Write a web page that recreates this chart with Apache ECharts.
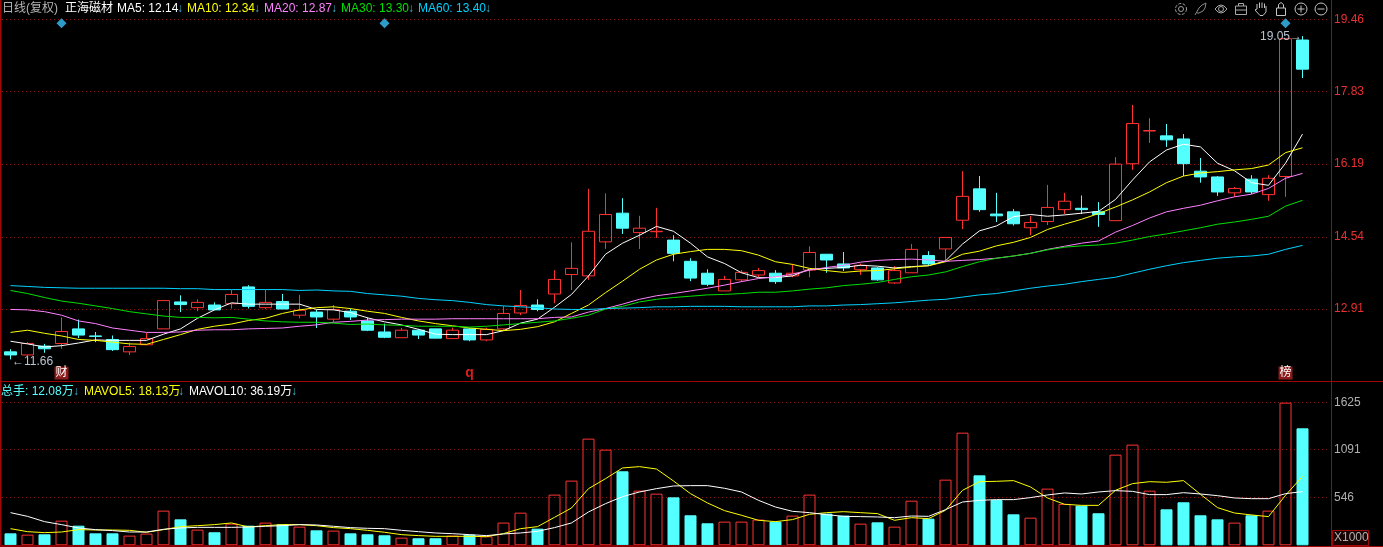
<!DOCTYPE html>
<html><head><meta charset="utf-8">
<style>html,body{margin:0;padding:0;background:#000}#c{width:1383px;height:547px}</style>
<script src="https://cdn.jsdelivr.net/npm/echarts@6/dist/echarts.min.js"></script>
</head><body><div id="c"></div>
<script>
// [open, close, low, high]
const kline = [
[11.94,11.87,11.77,12.00],[11.87,12.13,11.83,12.16],[12.07,12.01,11.92,12.12],[12.13,12.40,12.01,12.72],[12.46,12.32,12.25,12.67],
[12.30,12.29,12.16,12.39],[12.22,11.99,11.96,12.31],[11.94,12.06,11.87,12.15],[12.10,12.24,12.09,12.37],[12.46,13.10,12.46,13.10],
[13.07,13.01,12.84,13.22],[12.94,13.06,12.86,13.13],[13.00,12.89,12.89,13.06],[13.03,13.24,12.92,13.34],[13.41,12.97,12.92,13.45],
[12.94,13.06,12.91,13.34],[13.08,12.91,12.91,13.25],[12.77,12.88,12.70,13.23],[12.84,12.73,12.48,12.90],[12.68,12.90,12.61,13.00],
[12.86,12.73,12.66,12.92],[12.64,12.43,12.41,12.72],[12.39,12.27,12.25,12.58],[12.26,12.43,12.26,12.48],[12.43,12.32,12.23,12.46],
[12.46,12.25,12.25,12.46],[12.24,12.43,12.24,12.49],[12.46,12.21,12.18,12.48],[12.21,12.45,12.18,12.49],[12.46,12.81,12.43,12.98],
[12.82,12.99,12.77,13.34],[13.00,12.90,12.86,13.13],[13.25,13.58,13.04,13.79],[13.69,13.83,13.34,14.42],[13.66,14.67,13.57,15.63],
[14.43,15.05,14.27,15.53],[15.08,14.74,14.61,15.42],[14.64,14.74,14.27,15.02],[14.66,14.67,14.52,15.20],[14.47,14.17,13.99,14.58],
[13.99,13.61,13.54,14.06],[13.72,13.47,13.43,13.81],[13.32,13.58,13.32,13.66],[13.57,13.74,13.52,13.79],[13.68,13.78,13.63,13.84],
[13.72,13.53,13.48,13.79],[13.66,13.72,13.63,13.93],[13.79,14.19,13.63,14.33],[14.15,14.02,13.73,14.15],[13.93,13.84,13.77,14.20],
[13.80,13.90,13.68,13.94],[13.84,13.57,13.55,13.86],[13.50,13.78,13.48,13.88],[13.73,14.26,13.73,14.38],[14.12,13.93,13.89,14.22],
[14.27,14.53,14.00,14.53],[14.92,15.46,14.72,16.03],[15.63,15.16,15.11,15.92],[15.06,15.02,14.88,15.54],[15.11,14.84,14.80,15.17],
[14.75,14.87,14.58,15.02],[14.89,15.21,14.81,15.72],[15.16,15.35,15.06,15.54],[15.19,15.16,15.06,15.48],[15.11,15.05,14.77,15.33],
[14.91,16.19,14.91,16.35],[16.20,17.11,16.06,17.53],[16.94,16.95,16.67,17.23],[16.83,16.74,16.58,17.10],[16.76,16.20,15.92,16.87],
[16.03,15.90,15.77,16.33],[15.90,15.56,15.47,15.92],[15.54,15.64,15.45,15.67],[15.85,15.56,15.51,15.94],[15.50,15.87,15.36,15.94],
[15.91,19.03,15.45,19.03],[19.00,18.34,18.14,19.09]];
const ma5 = [12.18,12.12,12.05,12.08,12.14,12.21,12.20,12.20,12.20,12.34,12.46,12.70,12.89,13.05,13.02,13.02,13.02,13.02,12.90,12.89,12.83,12.71,12.62,12.55,12.45,12.34,12.33,12.33,12.33,12.42,12.59,12.68,12.95,13.24,13.66,14.15,14.40,14.58,14.78,14.67,14.40,14.09,13.94,13.73,13.62,13.62,13.66,13.81,13.83,13.85,13.90,13.88,13.84,13.87,13.89,14.00,14.38,14.68,14.79,15.00,15.05,15.01,15.04,15.08,15.12,15.39,15.83,16.24,16.51,16.64,16.58,16.21,16.04,15.77,15.71,16.21,16.87];
const ma10 = [12.38,12.43,12.36,12.30,12.22,12.20,12.16,12.12,12.11,12.22,12.33,12.45,12.52,12.57,12.65,12.70,12.81,12.89,12.94,12.96,12.92,12.86,12.81,12.72,12.64,12.58,12.53,12.48,12.45,12.42,12.45,12.51,12.62,12.81,13.00,13.28,13.54,13.81,14.02,14.15,14.21,14.26,14.26,14.23,14.13,13.98,13.92,13.83,13.78,13.74,13.77,13.78,13.82,13.86,13.89,13.98,14.15,14.22,14.34,14.42,14.53,14.71,14.83,14.94,15.07,15.22,15.38,15.56,15.77,15.92,15.99,16.02,16.06,16.09,16.17,16.45,16.56];
const ma20 = [12.90,12.89,12.85,12.77,12.64,12.58,12.48,12.43,12.38,12.38,12.39,12.43,12.44,12.44,12.46,12.47,12.48,12.52,12.55,12.61,12.63,12.66,12.67,12.68,12.68,12.68,12.69,12.69,12.69,12.69,12.69,12.69,12.72,12.73,12.84,12.92,13.02,13.13,13.21,13.26,13.32,13.38,13.45,13.53,13.60,13.64,13.70,13.79,13.85,13.90,13.97,14.01,14.03,14.04,14.02,13.99,14.01,14.03,14.06,14.11,14.17,14.26,14.33,14.40,14.45,14.65,14.80,14.97,15.11,15.19,15.26,15.36,15.45,15.51,15.64,15.87,15.98];
const ma30 = [13.33,13.26,13.17,13.09,13.04,12.98,12.92,12.85,12.80,12.75,12.72,12.72,12.71,12.72,12.68,12.64,12.62,12.61,12.61,12.59,12.56,12.57,12.55,12.54,12.52,12.52,12.52,12.50,12.52,12.55,12.58,12.61,12.64,12.70,12.77,12.91,12.97,13.07,13.13,13.17,13.20,13.23,13.24,13.26,13.29,13.29,13.32,13.36,13.39,13.44,13.47,13.51,13.58,13.64,13.68,13.75,13.87,13.98,14.06,14.11,14.17,14.25,14.31,14.34,14.36,14.40,14.47,14.55,14.61,14.68,14.75,14.83,14.88,14.94,15.01,15.24,15.37];
const ma60 = [13.44,13.42,13.40,13.39,13.38,13.38,13.38,13.38,13.38,13.38,13.37,13.37,13.35,13.35,13.35,13.35,13.35,13.33,13.34,13.32,13.31,13.26,13.23,13.20,13.15,13.12,13.10,13.06,13.01,12.98,12.96,12.94,12.91,12.90,12.90,12.92,12.93,12.94,12.96,12.96,12.97,12.97,12.97,12.96,12.96,12.96,12.96,12.98,12.98,13.00,13.01,13.03,13.05,13.08,13.11,13.13,13.18,13.23,13.26,13.32,13.38,13.43,13.47,13.53,13.58,13.63,13.72,13.81,13.89,13.96,14.01,14.06,14.09,14.11,14.15,14.26,14.35];
const vol = [136,121,125,280,223,136,136,110,133,394,295,178,148,246,223,258,239,212,170,167,136,125,114,87,80,80,110,121,102,258,371,189,576,735,1212,1087,841,621,587,545,341,250,269,269,292,269,337,576,360,337,246,261,212,507,303,746,1280,795,515,352,314,644,470,451,364,1030,1144,621,409,489,341,295,258,341,394,1621,1329];
const mavol5 = [189,155,144,151,178,174,174,170,148,178,212,223,235,254,208,223,235,235,223,201,189,170,148,121,110,102,102,102,98,133,189,212,318,424,644,757,879,894,867,731,587,481,394,341,284,269,292,352,371,382,371,360,284,314,303,398,625,723,727,735,663,538,466,454,454,625,701,723,716,735,579,428,367,345,326,568,784];
const mavol10 = [371,329,269,235,197,178,167,151,151,182,197,204,204,204,208,216,223,235,231,216,201,193,189,170,155,140,132,121,110,129,140,159,201,254,379,473,553,606,644,674,678,678,648,606,511,435,386,371,348,329,326,322,314,333,329,405,492,511,519,519,542,572,595,583,606,621,613,576,576,598,583,564,538,530,530,587,610];
const priceTicks = [19.46,17.83,16.19,14.54,12.91];
const volTicks = [1625,1091,546];
const diamonds = [3,22,75];
const categories = kline.map((_,i)=>String(i)).concat(['']);

const UP='#ff3232', DOWN='#54ffff', GRID='#8c1010', FRAME='#a00808', FONT='"Liberation Sans","Noto Sans CJK SC",sans-serif';
const isUp = i => kline[i][1] >= kline[i][0];
const line = (name,data,color,xi,yi)=>({name,type:'line',data,xAxisIndex:xi,yAxisIndex:yi,symbol:'none',silent:true,
  lineStyle:{color,width:1},itemStyle:{color},z:5});
const txt = (x,y,text,fill,size)=>({type:'text',x,y,z:50,silent:true,style:{text,fill,font:(size||12)+'px '+FONT,textVerticalAlign:'top'}});
const poly = (pts,stroke)=>({type:'polyline',z:50,silent:true,shape:{points:pts},style:{stroke:stroke||'#a8a8a8',fill:null,lineWidth:1}});
const ring = (cx,cy,r,stroke,dash)=>({type:'circle',z:50,silent:true,shape:{cx,cy,r},style:{stroke:stroke,fill:null,lineWidth:1,lineDash:dash||null}});
const seg = (x1,y1,x2,y2,color,w)=>({type:'line',z:40,silent:true,shape:{x1,y1,x2,y2},style:{stroke:color,lineWidth:w||1}});

const graphic = [
 seg(0.5,0,0.5,547,FRAME,2), seg(0,381.5,1383,381.5,FRAME),
 seg(1331.5,0,1331.5,547,FRAME), seg(0,546,1120,546,'#8b0000',2), seg(1120,546.5,1383,546.5,FRAME),
 {type:'rect',z:41,silent:true,shape:{x:1332.5,y:530.5,width:36,height:15},style:{fill:'#1a0505',stroke:FRAME,lineWidth:1}},
 txt(1334,532,'X1000','#b0b0b0',12),
 txt(2,3,'日线(复权)','#b4b4b4'), txt(65,3,'正海磁材','#ffffff'),
 txt(117,3,'MA5: 12.14','#ffffff'), txt(177,3,'↓','#3fb6d0'),
 txt(187,3,'MA10: 12.34','#ffff00'), txt(254,3,'↓','#3fb6d0'),
 txt(264,3,'MA20: 12.87','#ff80ff'), txt(331,3,'↓','#3fb6d0'),
 txt(341,3,'MA30: 13.30','#00e000'), txt(408,3,'↓','#3fb6d0'),
 txt(418,3,'MA60: 13.40','#00d2ff'), txt(485,3,'↓','#3fb6d0'),
 txt(1,386,'总手: 12.08万','#54ffff'), txt(73,386,'↓','#3fb6d0'),
 txt(84,386,'MAVOL5: 18.13万','#ffff00'), txt(178,386,'↓','#3fb6d0'),
 txt(189,386,'MAVOL10: 36.19万','#ffffff'), txt(291,386,'↓','#3fb6d0'),
 // toolbar
 ring(1181,9,2.5,'#a0a0a0'), ring(1181,9,5.5,'#a0a0a0',[3,1.5]),
 poly([[1195,15],[1199,8],[1202,5],[1206,3],[1205,8],[1203,11],[1199,13],[1197,13]],'#8a8a8a'),
 poly([[1215,9],[1218,6],[1221,5],[1224,6],[1227,9],[1224,12],[1221,13],[1218,12],[1215,9]]), ring(1221,9,2.5,'#a8a8a8'),
 poly([[1235.5,6],[1246.5,6],[1246.5,14.5],[1235.5,14.5],[1235.5,6]]), poly([[1238.5,6],[1238.5,3.5],[1243.5,3.5],[1243.5,6]]), poly([[1235.5,10],[1246.5,10]]),
 poly([[1257,9],[1257,4]],'#c4c4c4'), poly([[1259.5,8],[1259.5,2.5]],'#c4c4c4'), poly([[1262,8],[1262,2.5]],'#c4c4c4'), poly([[1264.5,8],[1264.5,3.5]],'#c4c4c4'),
 poly([[1266,9],[1266,6]],'#c4c4c4'), poly([[1266,9],[1266,12],[1263,15.5],[1260,15.5],[1255,10],[1257,9]],'#c4c4c4'),
 poly([[1276.5,8],[1285.5,8],[1285.5,15.5],[1276.5,15.5],[1276.5,8]],'#c4c4c4'), poly([[1278.5,8],[1278.5,4.5],[1281,2.5],[1283.5,4.5],[1283.5,8]],'#c4c4c4'),
 ring(1301,9,6,'#c4c4c4'), poly([[1297.5,9],[1304.5,9]],'#c4c4c4'), poly([[1301,5.5],[1301,12.5]],'#c4c4c4'),
 ring(1321,9,6,'#c4c4c4'), poly([[1317.5,9],[1324.5,9]],'#c4c4c4')
];

const diamondValue = 19.38, badgeValue = 11.46;
const point = (i,value,extra)=>Object.assign({coord:[i,value]},extra);
const badge = (i,text,bg,color,weight,size)=>point(i,badgeValue,{symbol:'rect',symbolSize:1,itemStyle:{color:'transparent'},
  label:{show:true,position:'inside',formatter:text,color,fontSize:size||12,fontWeight:weight||'normal',fontFamily:FONT,backgroundColor:bg,padding:[1,1,0,1]}});
const note = (i,value,text,pos)=>point(i,value,{symbol:'rect',symbolSize:1,itemStyle:{color:'transparent'},
  label:{show:true,position:pos,distance:pos==='left'?0:1,formatter:text,color:'#b8c4d0',fontSize:12,fontFamily:FONT}});

const option = {
 backgroundColor:'#000', animation:false,
 graphic,
 grid:[{left:2,width:1326,top:19.7,height:361.3},{left:2,width:1326,top:402.3,height:143}],
 xAxis:[0,1].map(g=>({type:'category',gridIndex:g,data:categories,boundaryGap:true,show:false})),
 yAxis:[
  {type:'value',gridIndex:0,position:'right',offset:3,min:11.28,max:19.46,scale:true,
   axisLine:{show:false},axisTick:{show:false,customValues:priceTicks},
   axisLabel:{customValues:priceTicks,color:'#e83030',fontSize:12,fontFamily:FONT,margin:3,formatter:v=>v.toFixed(2),showMinLabel:true,showMaxLabel:true},
   splitLine:{show:true,lineStyle:{color:GRID,type:[1,3],width:1}}},
  {type:'value',gridIndex:1,position:'right',offset:3,min:0,max:1625,
   axisLine:{show:false},axisTick:{show:false,customValues:volTicks},
   axisLabel:{customValues:volTicks,color:'#b0b0b0',fontSize:12,fontFamily:FONT,margin:3,formatter:v=>String(Math.round(v)),showMinLabel:true,showMaxLabel:true},
   splitLine:{show:true,lineStyle:{color:GRID,type:[1,3],width:1}}}
 ],
 series:[
  {name:'K',type:'candlestick',xAxisIndex:0,yAxisIndex:0,data:kline,barWidth:12,silent:true,
   itemStyle:{color:'transparent',color0:DOWN,borderColor:UP,borderColor0:DOWN,borderWidth:1},z:3,
   markPoint:{silent:true,animation:false,data:[
     ...diamonds.map(i=>point(i,diamondValue,{symbol:'diamond',symbolSize:10,itemStyle:{color:'#2e9cc8'},label:{show:false}})),
     badge(3,'财','#8b1a1a','#ffffff'), badge(27,'q','transparent','#d02020','bold',14), badge(75,'榜','#8b1a1a','#ffffff'),
     note(0,11.72,'←11.66','right'), note(76,19.08,'19.05→','left')
   ]}},
  line('MA5',ma5,'#ffffff',0,0), line('MA10',ma10,'#ffff00',0,0), line('MA20',ma20,'#ff80ff',0,0),
  line('MA30',ma30,'#00e000',0,0), line('MA60',ma60,'#00d2ff',0,0),
  {name:'VOL',type:'bar',xAxisIndex:1,yAxisIndex:1,barWidth:12,silent:true,z:3,
   data:vol.map((v,i)=>({value:v,itemStyle:isUp(i)?{color:'transparent',borderColor:UP,borderWidth:1}:{color:DOWN,borderColor:DOWN,borderWidth:1}}))},
  line('MAVOL5',mavol5,'#ffff00',1,1), line('MAVOL10',mavol10,'#ffffff',1,1)
 ]
};
echarts.init(document.getElementById('c'),null,{renderer:'canvas'}).setOption(option);
</script></body></html>
